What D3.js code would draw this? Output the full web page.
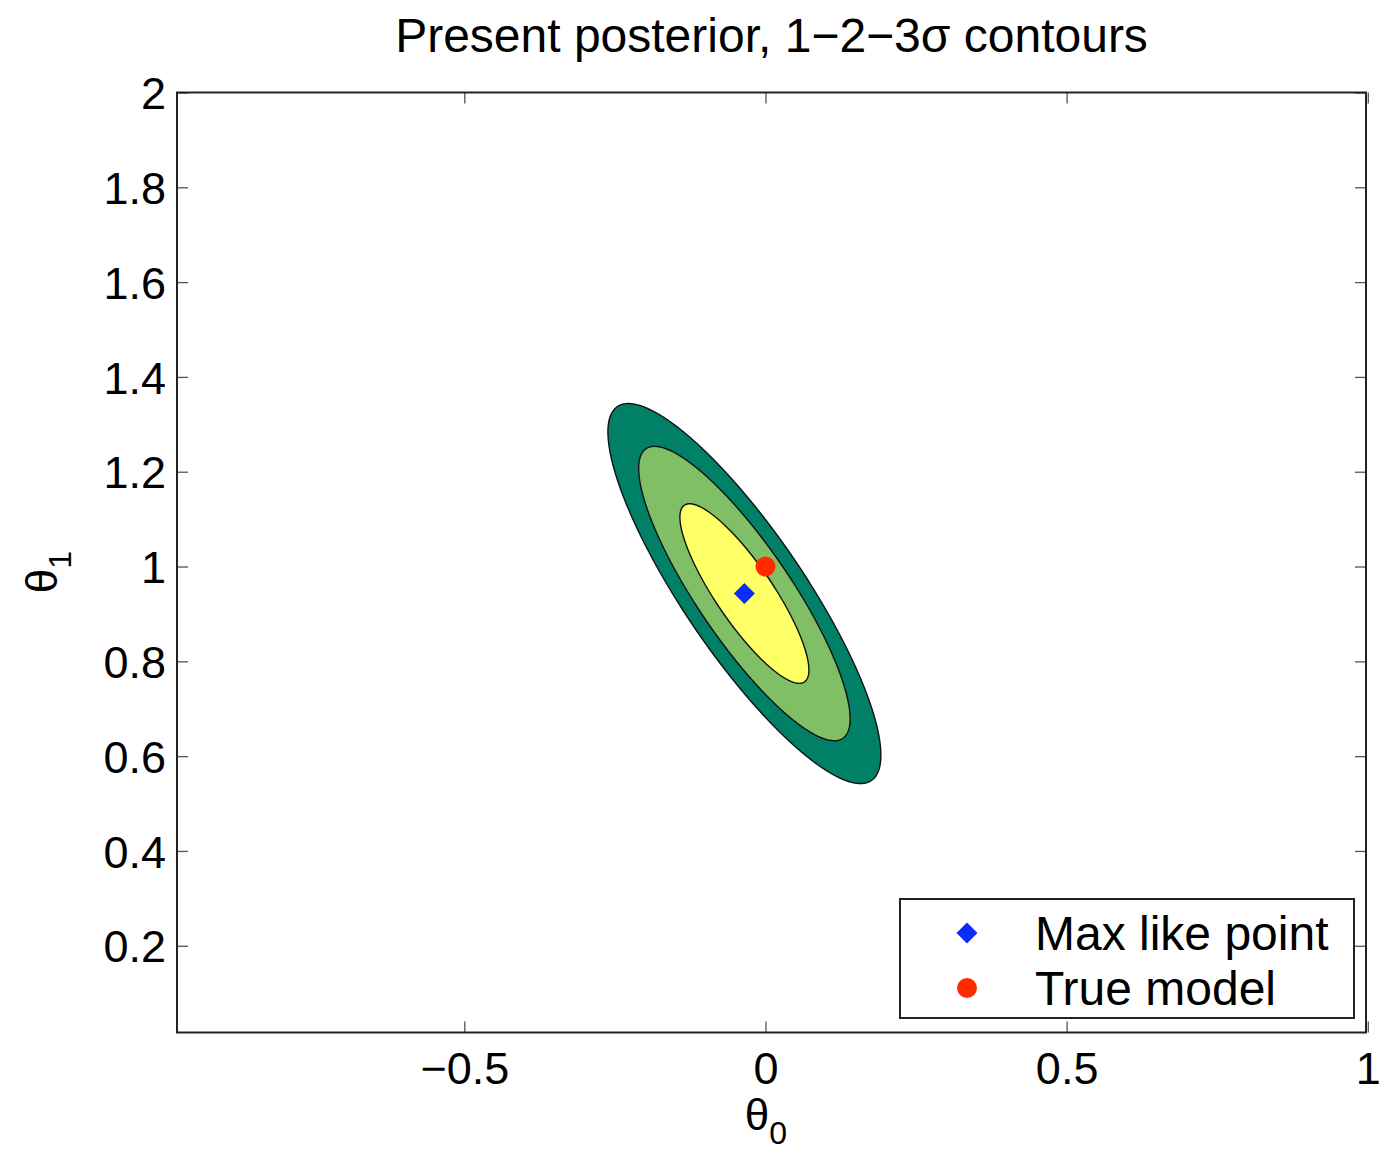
<!DOCTYPE html>
<html>
<head>
<meta charset="utf-8">
<script src="https://cdn.jsdelivr.net/npm/d3@7"></script>
<style>
  html, body { margin: 0; padding: 0; background: #fff; }
  svg { display: block; font-family: "Liberation Sans", Arial, Helvetica, sans-serif; }
</style>
</head>
<body>
<svg id="chart" width="1388" height="1154"></svg>
<script>
// Gaussian posterior for (theta0, theta1)
const posteriorMean = [-0.035, 0.943];
const posteriorSigma = [0.0706, 0.1249];
const posteriorRho = -0.85;
// Delta chi-square levels bounding the 3, 2, 1 sigma regions (outer to inner)
const chi2Levels = [10.3, 6.18, 2.30];
const levelColors = ["#008066", "#80bf66", "#ffff66"];

// Marked points
const maxLikePoint = [-0.035, 0.943];
const trueModel = [0, 1];

// Axes
const xDomain = [-0.977, 0.997];
const yDomain = [0.017, 2];
const xTicks = [-0.5, 0, 0.5, 1];
const yTicks = [0.2, 0.4, 0.6, 0.8, 1, 1.2, 1.4, 1.6, 1.8, 2];
const legendLabels = ["Max like point", "True model"];

const margin = { left: 177, right: 22, top: 92.5, bottom: 121.5 };
const W = 1388, H = 1154;
const pw = W - margin.left - margin.right;
const ph = H - margin.top - margin.bottom;

const svg = d3.select("#chart");
const x = d3.scaleLinear().domain(xDomain).range([0, pw]);
const y = d3.scaleLinear().domain(yDomain).range([ph, 0]);

const g = svg.append("g").attr("transform", `translate(${margin.left},${margin.top})`);

// chi-square field on a pixel grid
const gw = Math.round(pw), gh = Math.round(ph);
const values = new Float64Array(gw * gh);
const [mx, my] = posteriorMean, [sx, sy] = posteriorSigma, r = posteriorRho;
for (let j = 0; j < gh; j++) {
  const ty = y.invert(j + 0.5);
  for (let i = 0; i < gw; i++) {
    const tx = x.invert(i + 0.5);
    const u = (tx - mx) / sx, v = (ty - my) / sy;
    const chi2 = (u * u - 2 * r * u * v + v * v) / (1 - r * r);
    values[j * gw + i] = -chi2;
  }
}
const contours = d3.contours().size([gw, gh]).thresholds(chi2Levels.map(k => -k))(values);

g.append("g").selectAll("path")
  .data(contours)
  .join("path")
  .attr("d", d3.geoPath())
  .attr("transform", `scale(${pw / gw},${ph / gh})`)
  .attr("fill", (d, i) => levelColors[i])
  .attr("stroke", "#111")
  .attr("stroke-width", 1.4)
  .attr("vector-effect", "non-scaling-stroke");

// Axes with inward ticks on all four sides
const fmt = d => String(d).replace("-", "\u2212");
const tickLen = 11;
const axB = g.append("g").attr("transform", `translate(0,${ph})`)
  .call(d3.axisBottom(x).tickValues(xTicks).tickSizeInner(-tickLen).tickSizeOuter(0).tickPadding(20).tickFormat(fmt));
const axT = g.append("g")
  .call(d3.axisTop(x).tickValues(xTicks).tickSizeInner(-tickLen).tickSizeOuter(0).tickFormat(""));
const axL = g.append("g")
  .call(d3.axisLeft(y).tickValues(yTicks).tickSizeInner(-tickLen).tickSizeOuter(0).tickPadding(11).tickFormat(fmt));
const axR = g.append("g").attr("transform", `translate(${pw},0)`)
  .call(d3.axisRight(y).tickValues(yTicks).tickSizeInner(-tickLen).tickSizeOuter(0).tickFormat(""));

[axB, axT, axL, axR].forEach(a => {
  a.select(".domain").remove();
  a.selectAll(".tick line").attr("stroke", "#555").attr("stroke-width", 1.3);
  a.selectAll(".tick text").attr("fill", "#000").attr("font-size", 45)
    .attr("font-family", "\"Liberation Sans\", Arial, sans-serif");
});
axB.selectAll(".tick text").attr("dy", "0.71em");
axL.selectAll(".tick text").attr("dy", "0.36em");

// Frame
g.append("rect").attr("x", 0).attr("y", 0).attr("width", pw).attr("height", ph)
  .attr("fill", "none").attr("stroke", "#222").attr("stroke-width", 2);

// Points
const diamond = d3.symbol().type(d3.symbolSquare).size(220);
const dot = d3.symbol().type(d3.symbolCircle).size(314);
g.append("path").attr("d", diamond())
  .attr("transform", `translate(${x(maxLikePoint[0])},${y(maxLikePoint[1])}) rotate(45)`)
  .attr("fill", "#0a2cff");
g.append("path").attr("d", dot())
  .attr("transform", `translate(${x(trueModel[0])},${y(trueModel[1])})`)
  .attr("fill", "#ff2a00");

// Legend
const lg = svg.append("g").attr("transform", "translate(900,899)");
lg.append("rect").attr("width", 454).attr("height", 119)
  .attr("fill", "#fff").attr("stroke", "#222").attr("stroke-width", 2);
const legendSymbols = [diamond, dot];
const legendFills = ["#0a2cff", "#ff2a00"];
const legendRot = [45, 0];
legendLabels.forEach((lab, i) => {
  const cy = 34 + i * 55;
  lg.append("path").attr("d", legendSymbols[i]())
    .attr("transform", `translate(67,${cy}) rotate(${legendRot[i]})`)
    .attr("fill", legendFills[i]);
  lg.append("text").attr("x", 135).attr("y", cy).attr("dy", "0.36em")
    .attr("font-size", 48).attr("fill", "#000").text(lab);
});

// Title
svg.append("text").attr("x", margin.left + pw / 2).attr("y", 52)
  .attr("text-anchor", "middle").attr("font-size", 48).attr("fill", "#000")
  .text("Present posterior, 1\u22122\u22123\u03c3 contours");

// Axis labels
const xl = svg.append("text").attr("x", 766).attr("y", 1130)
  .attr("text-anchor", "middle").attr("font-size", 44).attr("fill", "#000");
xl.append("tspan").text("\u03b8");
xl.append("tspan").attr("font-size", 32).attr("dy", 14).text("0");

const yl = svg.append("text").attr("transform", "translate(57,572) rotate(-90)")
  .attr("text-anchor", "middle").attr("font-size", 44).attr("fill", "#000");
yl.append("tspan").text("\u03b8");
yl.append("tspan").attr("font-size", 32).attr("dy", 14).text("1");
</script>
</body>
</html>
